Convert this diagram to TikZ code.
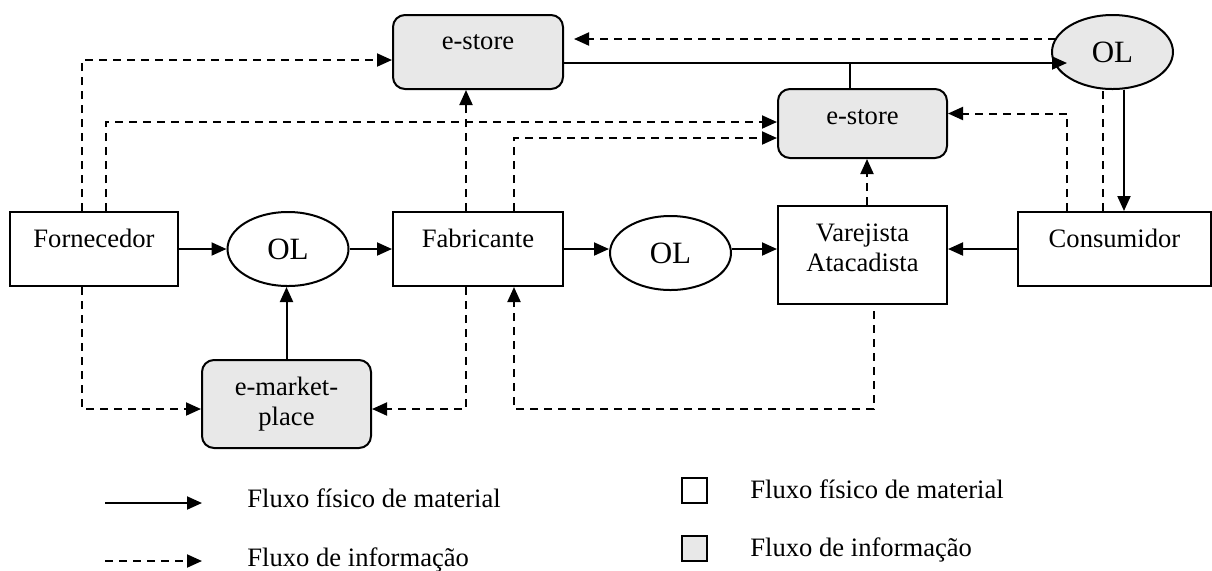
\documentclass[tikz,border=0pt]{standalone}
\usepackage{fontspec}
\setmainfont{Liberation Serif}
\usetikzlibrary{arrows.meta,calc,shapes.geometric}
\definecolor{boxgray}{RGB}{232,232,232}
\begin{document}
\begin{tikzpicture}[x=0.5pt,y=-0.5pt,
  every node/.style={font=\fontsize{13.3}{15}\selectfont},
  base/.style={draw=black, line width=1pt, inner sep=0pt},
  plainbox/.style={base, rectangle, fill=white},
  infobox/.style={base, rectangle, rounded corners=6pt, fill=boxgray},
  olnode/.style={base, ellipse, minimum width=60.5pt, minimum height=37pt, font=\fontsize{15.5}{17}\selectfont},
  flow/.style={line width=1pt, -{Triangle[length=7.5pt,width=6.5pt]}},
  infoflow/.style={flow, dash pattern=on 4pt off 3pt},
  infoline/.style={line width=1pt, dash pattern=on 4pt off 3pt},
  plainline/.style={line width=1pt},
  legtext/.style={anchor=base west, inner sep=0pt}
]
\useasboundingbox (0,0) rectangle (1212,570);

% nodes
\node[plainbox, minimum width=84pt, minimum height=37pt, text height=8pt, text depth=9.7pt] (forn) at (94,249) {Fornecedor};
\node[olnode] (ol1) at (288,249) {OL};
\node[plainbox, minimum width=85pt, minimum height=37pt, text height=8pt, text depth=9.7pt] (fab) at (478,249) {Fabricante};
\node[olnode] (ol2) at (670.5,253) {OL};
\node[plainbox, minimum width=84.5pt, minimum height=49pt, text height=18pt, text depth=15.6pt] (var) at (862.5,255) {\begin{tabular}{@{}c@{}}Varejista\\Atacadista\end{tabular}};
\node[plainbox, minimum width=96.5pt, minimum height=37pt, text height=8pt, text depth=9.7pt] (cons) at (1114.5,249) {Consumidor};
\node[infobox, minimum width=85pt, minimum height=37pt, text height=8pt, text depth=10.7pt] (estore1) at (478,52) {e-store};
\node[infobox, minimum width=84.5pt, minimum height=34.5pt, text height=8pt, text depth=7pt] (estore2) at (862.5,123.5) {e-store};
\node[olnode, fill=boxgray] (ol3) at (1112.5,52) {OL};
\node[infobox, minimum width=84.5pt, minimum height=44pt] (emkt) at (286.5,404) {\begin{tabular}{@{}c@{}}e-market-\\place\end{tabular}};

% physical flows
\draw[flow] (forn.east) -- (ol1.west);
\draw[flow] (ol1.east) -- (fab.west);
\draw[flow] (fab.east) -- (fab.east -| ol2.west);
\draw[flow] (fab.east -| ol2.east) -- (fab.east -| var.west);
\draw[flow] (cons.west) -- (cons.west -| var.east);
\draw[flow] (emkt.north) -- (emkt.north |- ol1.south);
\coordinate (t1) at ($(estore1.east)+(0,11)$);
\coordinate (e3) at ($(ol3.center)+(-45.5,0)$);
\draw[flow] (t1) -- (t1 -| e3);
\coordinate (tk) at ($(estore2.north)+(-12.5,0)$);
\draw[plainline] (tk) -- (tk |- t1);
\coordinate (od) at ($(ol3.south)+(11.5,0)$);
\draw[flow] (od) -- (od |- cons.north);

% information flows
\coordinate (a1) at ($(estore1.west)+(0,8)$);
\coordinate (f1) at ($(forn.north)+(-12,0)$);
\draw[infoflow] (f1) |- (a1);
\coordinate (a2) at ($(estore2.west)+(0,-1.5)$);
\coordinate (f2) at ($(forn.north)+(12,0)$);
\draw[infoflow] (f2) |- (a2);
\coordinate (fb1) at ($(fab.north)+(-12,0)$);
\draw[infoflow] (fb1) -- (fb1 |- estore1.south);
\coordinate (a3) at ($(estore2.west)+(0,14.5)$);
\coordinate (fb2) at ($(fab.north)+(36,0)$);
\draw[infoflow] (fb2) |- (a3);
\coordinate (v1) at ($(var.north)+(4.5,0)$);
\draw[infoflow] (v1) -- (v1 |- estore2.south);
\coordinate (a4) at ($(estore2.east)+(0,-10)$);
\coordinate (c1) at ($(cons.north)+(-47.5,0)$);
\draw[infoflow] (c1) |- (a4);
\coordinate (c2) at ($(cons.north)+(-11.5,0)$);
\draw[infoline] (c2) -- (c2 |- ol3.south);
\coordinate (t2) at ($(estore1.east)+(10,-13)$);
\coordinate (e4) at ($(ol3.center)+(-57,0)$);
\draw[infoflow] (t2 -| e4) -- (t2);
\coordinate (bot) at ($(emkt.west)+(0,5)$);
\coordinate (f3) at ($(forn.south)+(-12,0)$);
\draw[infoflow] (f3) |- (bot);
\coordinate (bot2) at ($(emkt.east)+(0,5)$);
\coordinate (fb3) at ($(fab.south)+(-12,0)$);
\draw[infoflow] (fb3) |- (bot2);
\coordinate (v2) at ($(var.south)+(11.5,6)$);
\coordinate (fb4) at ($(fab.south)+(36,0)$);
\draw[infoflow] (v2) -- (v2 |- bot) -| (fb4);

% legend
\coordinate (ls1) at (105,503);
\coordinate (le1) at (202,503);
\draw[flow] (ls1) -- (le1);
\coordinate (ls2) at (105,561);
\coordinate (le2) at (202,561);
\draw[infoflow] (ls2) -- (le2);
\node[legtext] (lt1) at (247,507) {Fluxo físico de material};
\node[legtext] (lt2) at (247,566) {Fluxo de informação};
\node[plainbox, minimum width=12.5pt, minimum height=12.5pt] (sq1) at (694.5,490.5) {};
\node[base, rectangle, fill=boxgray, minimum width=12.5pt, minimum height=12.5pt] (sq2) at (694.5,548.5) {};
\node[legtext] (lt3) at (750,498) {Fluxo físico de material};
\node[legtext] (lt4) at (750,556) {Fluxo de informação};
\end{tikzpicture}
\end{document}
